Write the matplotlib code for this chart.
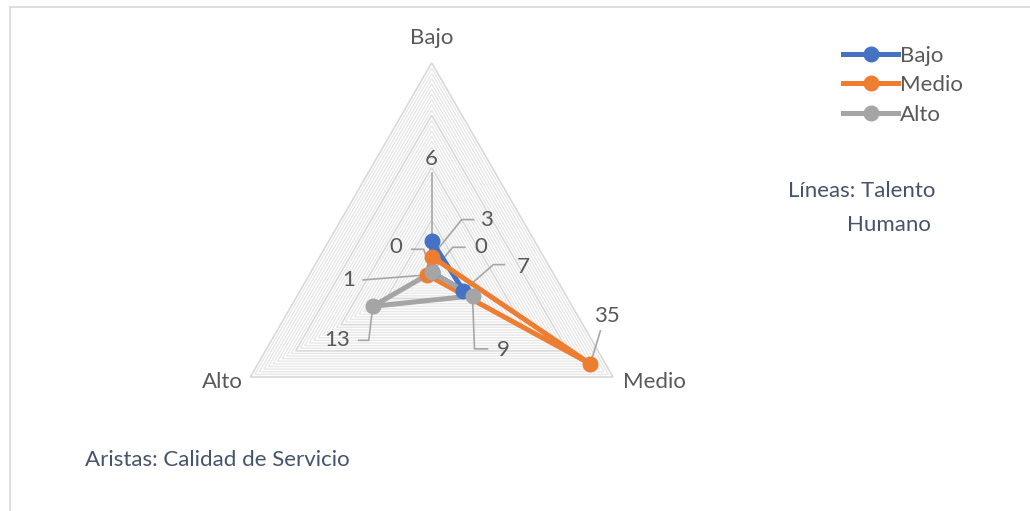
import numpy as np
import matplotlib
matplotlib.use("Agg")
from matplotlib import pyplot as plt
from matplotlib.lines import Line2D

# axes of the radar (Calidad de Servicio) and series (Talento Humano)
axis_names = ["Bajo", "Medio", "Alto"]
series_names = ["Bajo", "Medio", "Alto"]
bajo_vals = [6, 7, 0]
medio_vals = [3, 35, 1]
alto_vals = [0, 9, 13]
r_max = 40

colors = ["#4472C4", "#ED7D31", "#A5A5A5"]
text_col = "#595959"
note_col = "#44546A"
grid_major = "#d9d9d9"
grid_minor = "#e8e8e8"
leader_col = "#a6a6a6"
fs = 16

plt.rcParams["font.family"] = ["Lato", "DejaVu Sans"]

W, H, DPI = 1030, 511, 100
cx, cy = 431.7, 272.3          # centre of the triangle in pixels
px_per_unit = 209.4 / r_max

fig = plt.figure(figsize=(W / DPI, H / DPI), dpi=DPI)
ax = fig.add_axes([0, 0, 1, 1])
ax.set_xlim(-cx / px_per_unit, (W - cx) / px_per_unit)
ax.set_ylim(-(H - cy) / px_per_unit, cy / px_per_unit)
ax.axis("off")

angles = np.deg2rad([90, -30, 210])


def to_xy(vals):
    vals = np.asarray(vals, dtype=float)
    return vals * np.cos(angles), vals * np.sin(angles)


# grid rings (minor every 1, major every 10)
for r in range(1, r_max + 1):
    gx, gy = to_xy([r] * 3)
    major = r % 10 == 0
    ax.fill(gx, gy, fill=False, ec=grid_major if major else grid_minor,
            lw=1.2 if major else 1.0, zorder=1)

# axis labels
ox, oy = to_xy([r_max] * 3)
ax.text(ox[0], oy[0] + 25 / px_per_unit, axis_names[0], ha="center", va="center",
        fontsize=fs, color=text_col)
ax.text(ox[1] + 10 / px_per_unit, oy[1] - 5 / px_per_unit, axis_names[1], ha="left",
        va="center", fontsize=fs, color=text_col)
ax.text(ox[2] - 8 / px_per_unit, oy[2] - 5 / px_per_unit, axis_names[2], ha="right",
        va="center", fontsize=fs, color=text_col)

# series
all_vals = [bajo_vals, medio_vals, alto_vals]
for vals, c, name in zip(all_vals, colors, series_names):
    sx, sy = to_xy(vals)
    ax.plot(np.append(sx, sx[0]), np.append(sy, sy[0]), color=c, lw=3.6,
            solid_joinstyle="round", zorder=3)
    ax.plot(sx, sy, "o", color=c, ms=10.5, zorder=4)

# data labels: (series, axis) -> label offset and leader elbow, in pixels (y down)
label_pos = {
    (0, 0): ((0, -82), [(0, -68)]),
    (1, 0): ((55, -37), [(30, -37), (42, -37)]),
    (2, 0): ((49, -25), [(21, -25), (33, -25)]),
    (0, 2): ((-36, -25), [(-8, -23), (-20, -23)]),
    (0, 1): ((60, -24), [(30, -26), (41, -26)]),
    (1, 2): ((-79, 5), [(-64, 5)]),
    (2, 2): ((-36, 34), [(-4, 34), (-14, 34)]),
    (2, 1): ((31, 54), [(2, 53), (15, 53)]),
    (1, 1): ((17, -48), [(10, -33)]),
}
for (si, ai), (off, elbow) in label_pos.items():
    v = all_vals[si][ai]
    px, py = v * np.cos(angles[ai]), v * np.sin(angles[ai])
    lx = [px] + [px + e[0] / px_per_unit for e in elbow]
    ly = [py] + [py - e[1] / px_per_unit for e in elbow]
    ax.plot(lx, ly, color=leader_col, lw=1.2, zorder=2)
    ax.text(px + off[0] / px_per_unit, py - off[1] / px_per_unit, str(v),
            ha="center", va="center", fontsize=fs, color=text_col, zorder=5)

# legend
handles = [Line2D([], [], color=c, lw=3.6, marker="o", ms=10.5) for c in colors]
fig.legend(handles, series_names, loc="upper left",
           bbox_to_anchor=(834 / W, 1 - 37 / H), frameon=False, fontsize=fs,
           handlelength=2.5, handletextpad=0.05, labelspacing=0.42,
           borderaxespad=0, labelcolor=text_col)

# notes
fig.text(862 / W, 1 - 191 / H, "Líneas: Talento", ha="center", va="center",
         fontsize=fs, color=note_col)
fig.text(889 / W, 1 - 225 / H, "Humano", ha="center", va="center",
         fontsize=fs, color=note_col)
fig.text(85 / W, 1 - 460 / H, "Aristas: Calidad de Servicio", ha="left",
         va="center", fontsize=fs, color=note_col)

# chart border (partially visible)
fig.add_artist(Line2D([10 / W, 10 / W], [0, 1 - 7 / H], color="#d9d9d9", lw=1.2))
fig.add_artist(Line2D([10 / W, 1], [1 - 7 / H, 1 - 7 / H], color="#d9d9d9", lw=1.2))

plt.savefig("out.png", dpi=DPI)
plt.close()
